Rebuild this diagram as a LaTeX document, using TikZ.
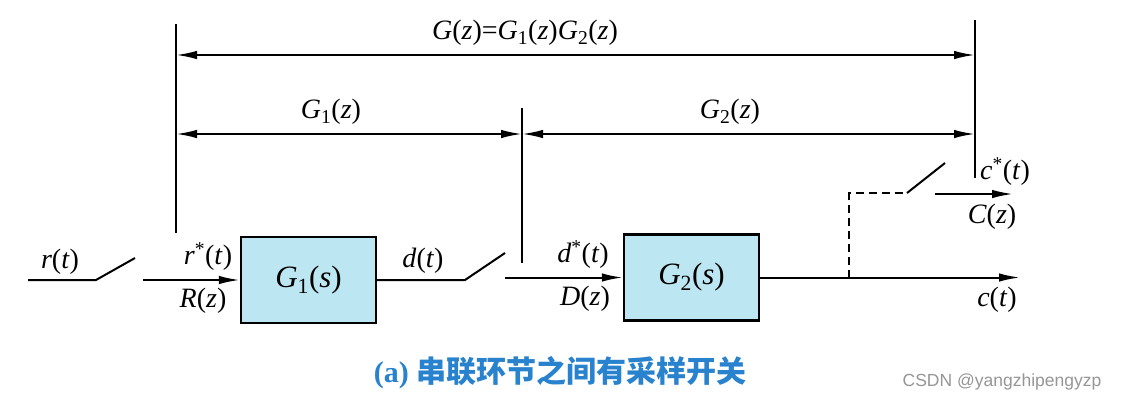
\documentclass[tikz,border=0pt]{standalone}
\usepackage{fontspec}
\setmainfont{Liberation Serif}
\newfontfamily\cjk{Noto Sans CJK SC}
\newfontfamily\wmfont{Liberation Sans}
\usetikzlibrary{arrows.meta}
\definecolor{boxfill}{RGB}{188,231,242}
\definecolor{capblue}{RGB}{40,130,205}
\definecolor{wmgray}{RGB}{150,150,150}
\newcommand\mi[1]{\textit{#1}}
\begin{document}
\begin{tikzpicture}[x=1pt,y=-1pt,
  ln/.style={line width=2pt},
  tip/.tip={Latex[length=21pt,width=8.5pt]},
  arr/.style={ln,-tip},
  dim/.style={ln,tip-tip},
  blk/.style={draw,line width=2.4pt,fill=boxfill,minimum width=135pt,minimum height=86pt,inner sep=0pt,font=\fontsize{31}{31}\selectfont},
  lbl/.style={inner sep=0pt,font=\fontsize{28}{28}\selectfont}]
\useasboundingbox (0,0) rectangle (1121,402);
\fill[white] (0,0) rectangle (1121,402);
% blocks
\node[blk] (g1) at (308.5,280) {\mi{G}\textsubscript{1}(\mi{s})};
\node[blk] (g2) at (691.5,277.5) {\mi{G}\textsubscript{2}(\mi{s})};
% coordinates
\coordinate (rin) at (28,280);
\coordinate (sw1a) at (96,280);
\coordinate (sw1b) at (135,258);
\coordinate (sw1c) at (143,280);
\coordinate (sw2a) at (465,280);
\coordinate (sw2b) at (505,253);
\coordinate (sw2c) at (505,277.5);
\coordinate (out) at (1020,277.5);
\coordinate (br) at (849,277.5);
\coordinate (dc) at (849,193);
\coordinate (sw3a) at (907,193);
\coordinate (sw3b) at (945,163);
\coordinate (sw3c) at (935,194);
\coordinate (czo) at (1013,194);
\coordinate (vlt) at (176,24);
\coordinate (vlb) at (176,233);
\coordinate (vmt) at (522,108);
\coordinate (vmb) at (522,263);
\coordinate (vrt) at (975,20);
\coordinate (vrb) at (975,178);
\coordinate (d1l) at (176,55);
\coordinate (d1r) at (975,55);
\coordinate (d2l) at (176,134);
\coordinate (d2m) at (522,134);
\coordinate (d2r) at (975,134);
% signal path
\draw[ln] (rin) -- (sw1a) -- (sw1b);
\draw[arr] (sw1c) -- (g1.west);
\draw[ln] (g1.east) -- (sw2a) -- (sw2b);
\draw[arr] (sw2c) -- (g2.west);
\draw[arr] (g2.east) -- (out);
\draw[line width=1.6pt,dash pattern=on 8pt off 5pt] (br) -- (dc) -- (sw3a);
\draw[ln] (sw3a) -- (sw3b);
\draw[arr] (sw3c) -- (czo);
% dimension lines
\draw[ln] (vlt) -- (vlb);
\draw[ln] (vmt) -- (vmb);
\draw[ln] (vrt) -- (vrb);
\draw[dim] (d1l) -- (d1r);
\draw[dim] (d2l) -- (d2m);
\draw[dim] (d2m) -- (d2r);
% labels
\node[lbl] (lG) at (525,33) {\mi{G}(\mi{z})=\mi{G}\textsubscript{1}(\mi{z})\mi{G}\textsubscript{2}(\mi{z})};
\node[lbl] (lG1) at (331,112) {\mi{G}\textsubscript{1}(\mi{z})};
\node[lbl] (lG2) at (730,112) {\mi{G}\textsubscript{2}(\mi{z})};
\node[lbl] (lr) at (60,262) {\mi{r}(\mi{t})};
\node[lbl] (lrs) at (208,257) {\mi{r}\textsuperscript{*}(\mi{t})};
\node[lbl] (lR) at (203,301) {\mi{R}(\mi{z})};
\node[lbl] (ld) at (423,261) {\mi{d}(\mi{t})};
\node[lbl] (lds) at (583,255) {\mi{d}\textsuperscript{*}(\mi{t})};
\node[lbl] (lD) at (585,299) {\mi{D}(\mi{z})};
\node[lbl] (lcs) at (1005,172) {\mi{c}\textsuperscript{*}(\mi{t})};
\node[lbl] (lC) at (992,217) {\mi{C}(\mi{z})};
\node[lbl] (lc) at (997,300) {\mi{c}(\mi{t})};
% caption
\node[inner sep=0pt,text=capblue,font=\fontsize{30}{30}\selectfont\bfseries] (cap) at (560,373) {(a) {\cjk 串联环节之间有采样开关}};
\node[inner sep=0pt,text=wmgray,font=\wmfont\fontsize{17.5}{17.5}\selectfont] (wm) at (1002,382) {CSDN @yangzhipengyzp};
\end{tikzpicture}
\end{document}
